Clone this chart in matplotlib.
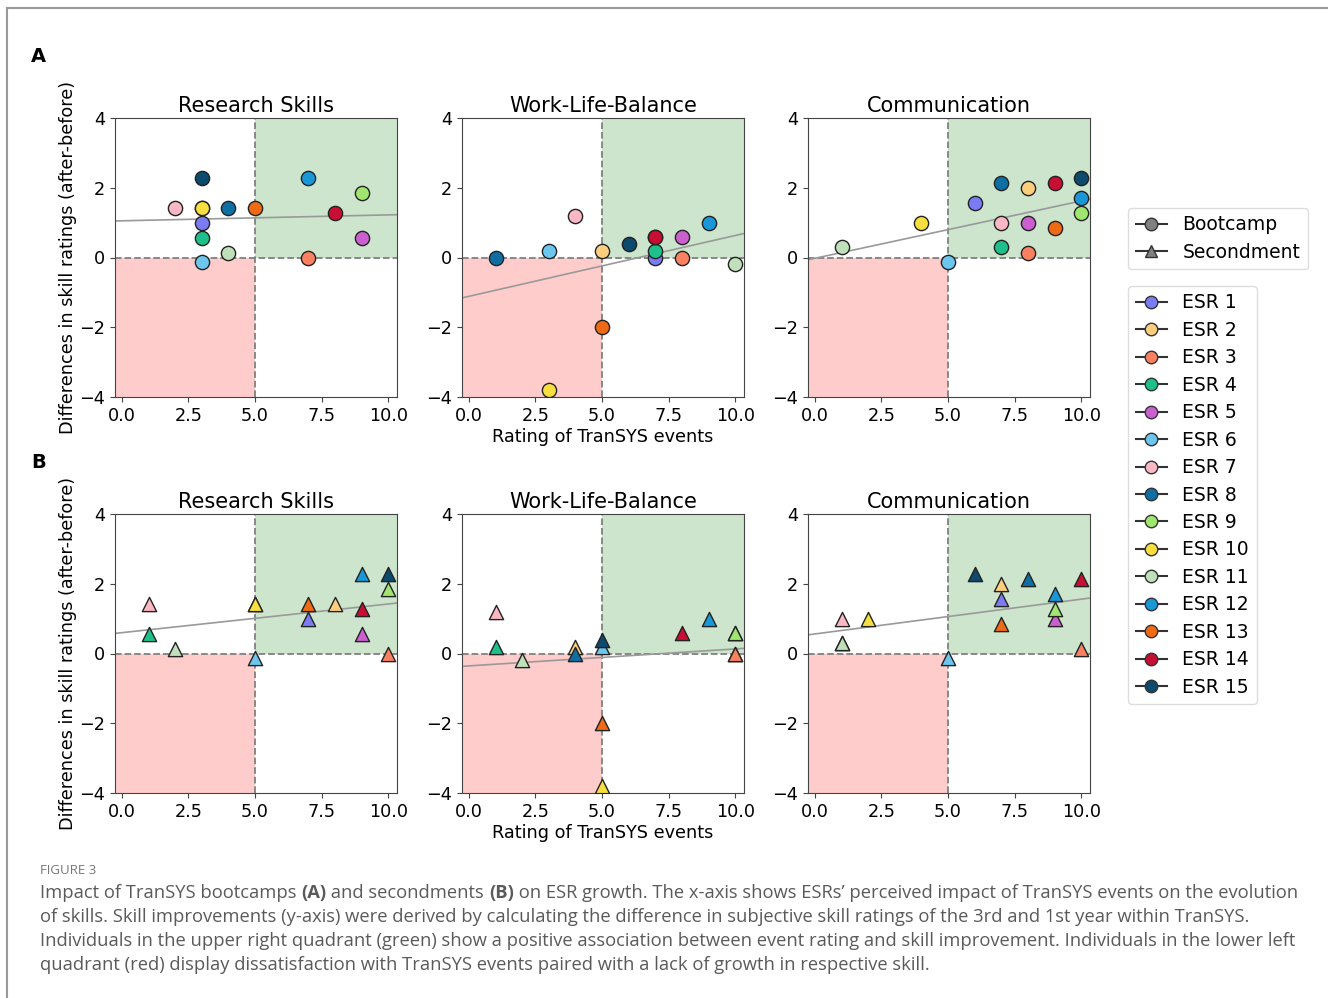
import matplotlib
matplotlib.use("Agg")
import matplotlib.pyplot as plt
from matplotlib.lines import Line2D
from matplotlib.text import Annotation
import numpy as np

plt.rcParams["font.size"] = 12.7

esr_labels = ["ESR %d" % i for i in range(1, 16)]
esr_colors = ["#7b7cf4", "#fccf7e", "#fa8062", "#1fbf8c", "#cb5fd0",
              "#6cc6ee", "#fbb8c4", "#0f6fa3", "#9fe56f", "#f6df3e",
              "#bfe0b8", "#1a97d6", "#ee6a14", "#c70e33", "#0c4a6e"]

skills = ["Research Skills", "Work-Life-Balance", "Communication"]

# bootcamps (A): event rating and skill difference per ESR
boot_rs_x = [3, 3, 7, 3, 9, 3, 2, 4, 9, 3, 4, 7, 5, 8, 3]
boot_rs_y = [1.0, 1.43, 0.0, 0.57, 0.57, -0.14, 1.43, 1.43, 1.86, 1.43, 0.14, 2.29, 1.43, 1.29, 2.29]
boot_wlb_x = [7, 5, 8, 7, 8, 3, 4, 1, 7, 3, 10, 9, 5, 7, 6]
boot_wlb_y = [0.0, 0.2, 0.0, 0.2, 0.6, 0.2, 1.2, 0.0, 0.6, -3.8, -0.2, 1.0, -2.0, 0.6, 0.4]
boot_com_x = [6, 8, 8, 7, 8, 5, 7, 7, 10, 4, 1, 10, 9, 9, 10]
boot_com_y = [1.57, 2.0, 0.14, 0.29, 1.0, -0.14, 1.0, 2.14, 1.29, 1.0, 0.29, 1.71, 0.86, 2.14, 2.29]

# secondments (B)
sec_rs_x = [7, 8, 10, 1, 9, 5, 1, 5, 10, 5, 2, 9, 7, 9, 10]
sec_rs_y = [1.0, 1.43, 0.0, 0.57, 0.57, -0.14, 1.43, 1.43, 1.86, 1.43, 0.14, 2.29, 1.43, 1.29, 2.29]
sec_wlb_x = [10, 4, 10, 1, 10, 5, 1, 4, 10, 5, 2, 9, 5, 8, 5]
sec_wlb_y = [0.0, 0.2, 0.0, 0.2, 0.6, 0.2, 1.2, 0.0, 0.6, -3.8, -0.2, 1.0, -2.0, 0.6, 0.4]
sec_com_x = [7, 7, 10, 1, 9, 5, 1, 8, 9, 2, 1, 9, 7, 10, 6]
sec_com_y = [1.57, 2.0, 0.14, 0.29, 1.0, -0.14, 1.0, 2.14, 1.29, 1.0, 0.29, 1.71, 0.86, 2.14, 2.29]

rows = [
    ("o", [(boot_rs_x, boot_rs_y), (boot_wlb_x, boot_wlb_y), (boot_com_x, boot_com_y)]),
    ("^", [(sec_rs_x, sec_rs_y), (sec_wlb_x, sec_wlb_y), (sec_com_x, sec_com_y)]),
]

W, H = 1328, 998
fig = plt.figure(figsize=(W / 100, H / 100), dpi=100)

lefts = [115, 462, 808]
tops = [118, 514]
aw, ah = 282, 279
xlim = (-0.26, 10.33)

for r, (marker, panels) in enumerate(rows):
    for c, (xs, ys) in enumerate(panels):
        ax = fig.add_axes([lefts[c] / W, 1 - (tops[r] + ah) / H, aw / W, ah / H])
        ax.set_xlim(*xlim)
        ax.set_ylim(-4, 4)
        ax.fill_between([xlim[0], 5], -4, 0, color="red", alpha=0.2, lw=0)
        ax.fill_between([5, xlim[1]], 0, 4, color="green", alpha=0.2, lw=0)
        ax.axvline(5, color="gray", ls="--", lw=1.3)
        ax.axhline(0, color="gray", ls="--", lw=1.3)

        x = np.array(xs, dtype=float)
        y = np.array(ys, dtype=float)
        k, b = np.polyfit(x, y, 1)
        xl = np.array(xlim)
        ax.plot(xl, k * xl + b, color="#999999", lw=1.2)

        for i in range(15):
            ax.scatter(x[i], y[i], s=105, marker=marker, color=esr_colors[i],
                       edgecolor="#222222", linewidth=1.0, zorder=3)

        ax.set_xticks([0, 2.5, 5, 7.5, 10])
        ax.set_xticklabels(["0.0", "2.5", "5.0", "7.5", "10.0"])
        ax.set_yticks([-4, -2, 0, 2, 4])
        ax.set_title(skills[c], fontsize=15, pad=4)
        for s in ax.spines.values():
            s.set_color("#444444")
        ax.tick_params(color="#444444")
        if c == 0:
            ax.set_ylabel("Differences in skill ratings (after-before)", labelpad=2)
        if c == 1:
            ax.set_xlabel("Rating of TranSYS events", labelpad=2)

fig.text(31 / W, 1 - 57 / H, "A", fontsize=14, fontweight="bold", va="center")
fig.text(31 / W, 1 - 463 / H, "B", fontsize=14, fontweight="bold", va="center")

# legends
leg_kw = dict(loc="upper left", fontsize=13.5, handlelength=1.7, borderaxespad=0,
              framealpha=1, edgecolor="#dddddd", labelspacing=0.45)
h_type = [
    Line2D([0], [0], color="#333333", marker="o", markerfacecolor="gray",
           markeredgecolor="#333333", markersize=9, label="Bootcamp"),
    Line2D([0], [0], color="#333333", marker="^", markerfacecolor="gray",
           markeredgecolor="#333333", markersize=9, label="Secondment"),
]
fig.legend(handles=h_type, bbox_to_anchor=(1128 / W, 1 - 208 / H), **leg_kw)

h_esr = [Line2D([0], [0], color="#333333", marker="o", markerfacecolor=esr_colors[i],
                markeredgecolor="#333333", markersize=9, label=esr_labels[i])
         for i in range(15)]
fig.legend(handles=h_esr, bbox_to_anchor=(1128 / W, 1 - 286 / H), **leg_kw)

# caption
cap_color = "#5a5a5a"
cap_font = "Open Sans"
cap_size = 13.2
fig.text(40 / W, 1 - 871 / H, "FIGURE 3", fontsize=9.5, color="#777777",
         family=cap_font, va="center")

first = [("Impact of TranSYS bootcamps ", "normal"), ("(A)", "bold"),
         (" and secondments ", "normal"), ("(B)", "bold"),
         (" on ESR growth. The x-axis shows ESRs\u2019 perceived impact of TranSYS events on the evolution", "normal")]
anchor = fig.text(40 / W, 1 - 893 / H, first[0][0], fontsize=cap_size, color=cap_color,
                  family=cap_font, va="center")
# chain the pieces of the first line so the bold parts sit inline
for txt, wt in first[1:]:
    anchor = fig.add_artist(Annotation(
        txt, xy=(1, 0), xycoords=anchor, va="bottom", ha="left",
        fontsize=cap_size, color=cap_color, family=cap_font, fontweight=wt,
        annotation_clip=False))

cap_lines = [
    "of skills. Skill improvements (y-axis) were derived by calculating the difference in subjective skill ratings of the 3rd and 1st year within TranSYS.",
    "Individuals in the upper right quadrant (green) show a positive association between event rating and skill improvement. Individuals in the lower left",
    "quadrant (red) display dissatisfaction with TranSYS events paired with a lack of growth in respective skill.",
]
for j, line in enumerate(cap_lines):
    fig.text(40 / W, 1 - (917 + 24 * j) / H, line, fontsize=cap_size, color=cap_color,
             family=cap_font, va="center")

# page frame
fig.add_artist(Line2D([7 / W, 1], [1 - 8 / H, 1 - 8 / H], color="#999999", lw=1.5))
fig.add_artist(Line2D([7 / W, 7 / W], [0, 1 - 8 / H], color="#999999", lw=1.5))

fig.savefig("out.png", dpi=100)
